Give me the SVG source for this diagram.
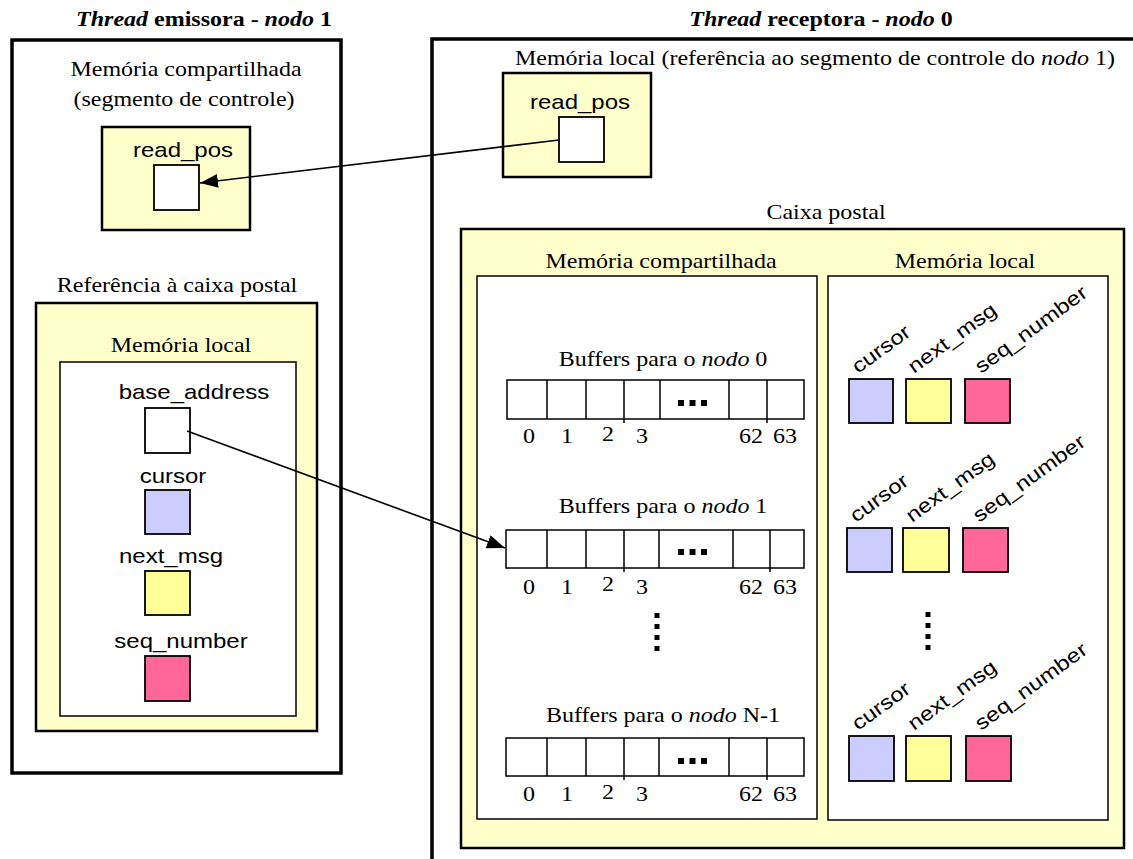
<svg xmlns="http://www.w3.org/2000/svg" width="1133" height="859" viewBox="0 0 1133 859">
  <style>
    .serif { font-family: "Liberation Serif", "Times New Roman", serif; font-size: 20px; fill: #000; }
    .sans { font-family: "Liberation Sans", Arial, sans-serif; font-size: 20px; fill: #000; }
    .title { font-weight: bold; }
    .it { font-style: italic; }
    .outer { fill: #fff; stroke: #000; stroke-width: 3.5; }
    .panel { fill: #ffffcc; stroke: #000; stroke-width: 2.5; }
    .inner { fill: #fff; stroke: #000; stroke-width: 1.5; }
    .cell { fill: #fff; stroke: #000; stroke-width: 1.5; }
    .div { stroke: #000; stroke-width: 1.5; fill: none; }
    .reg { stroke: #000; stroke-width: 1.8; }
    .blank { fill: #fff; }
    .cur { fill: #ccccff; }
    .nxt { fill: #ffff99; }
    .seq { fill: #ff6699; }
    .link { stroke: #000; stroke-width: 1.6; fill: none; marker-end: url(#arrow); }
    .dot { fill: #000; }
  </style>
  <defs>
    <marker id="arrow" markerUnits="userSpaceOnUse" markerWidth="20" markerHeight="16" refX="18" refY="7" orient="auto">
      <path d="M0,0 L18,7 L0,14 z" fill="#000"/>
    </marker>
  </defs>

  <rect width="1133" height="859" fill="#fff"/>

  <!-- Sender thread (node 1) -->
  <g id="sender">
    <text class="serif title" text-anchor="middle" transform="translate(204 26) scale(1.2 1)"><tspan class="it">Thread</tspan> emissora - <tspan class="it">nodo</tspan> 1</text>
    <rect class="outer" x="12" y="40" width="329" height="733"/>
    <text class="serif" text-anchor="middle" transform="translate(186 76) scale(1.2 1)">Memória compartilhada</text>
    <text class="serif" text-anchor="middle" transform="translate(184 106) scale(1.2 1)">(segmento de controle)</text>
  </g>

  <g id="sender-control">
    <rect class="panel" x="102" y="127" width="148" height="103" stroke-width="2"/>
    <text class="sans" text-anchor="middle" transform="translate(183 157) scale(1.2 1)">read_pos</text>
    <rect class="reg blank" x="154" y="165" width="45" height="45"/>
  </g>

  <g id="sender-mailbox-ref">
    <text class="serif" text-anchor="middle" transform="translate(177 292) scale(1.2 1)">Referência à caixa postal</text>
    <rect class="panel" x="36" y="303" width="281" height="428"/>
    <text class="serif" text-anchor="middle" transform="translate(181 352) scale(1.2 1)">Memória local</text>
    <rect class="inner" x="60" y="362" width="236" height="354"/>
    <text class="sans" text-anchor="middle" transform="translate(194 399) scale(1.2 1)">base_address</text>
    <rect class="reg blank" x="145" y="408" width="45" height="45"/>
    <text class="sans" text-anchor="middle" transform="translate(173 483) scale(1.2 1)">cursor</text>
    <rect class="reg cur" x="145" y="490" width="45" height="44"/>
    <text class="sans" text-anchor="middle" transform="translate(171 563) scale(1.2 1)">next_msg</text>
    <rect class="reg nxt" x="145" y="571" width="45" height="44"/>
    <text class="sans" text-anchor="middle" transform="translate(181 648) scale(1.2 1)">seq_number</text>
    <rect class="reg seq" x="145" y="656" width="45" height="45"/>
  </g>

  <!-- Receiver thread (node 0) -->
  <g id="receiver">
    <text class="serif title" text-anchor="middle" transform="translate(821 26) scale(1.2 1)"><tspan class="it">Thread</tspan> receptora - <tspan class="it">nodo</tspan> 0</text>
    <rect class="outer" x="432" y="39" width="760" height="880"/>
    <text class="serif" text-anchor="middle" transform="translate(815 65) scale(1.2 1)">Memória local (referência ao segmento de controle do <tspan class="it">nodo</tspan> 1)</text>
  </g>

  <g id="receiver-control-ref">
    <rect class="panel" x="503" y="73" width="148" height="104" stroke-width="2"/>
    <text class="sans" text-anchor="middle" transform="translate(580 109) scale(1.2 1)">read_pos</text>
    <rect class="reg blank" x="559" y="117" width="45" height="45"/>
  </g>

  <g id="mailbox">
    <text class="serif" text-anchor="middle" transform="translate(826 219) scale(1.2 1)">Caixa postal</text>
    <rect class="panel" x="461" y="229" width="663" height="619"/>
  </g>

  <g id="mailbox-shared">
    <text class="serif" text-anchor="middle" transform="translate(661 268) scale(1.2 1)">Memória compartilhada</text>
    <rect class="inner" x="477" y="276" width="340" height="543"/>

    <!-- buffers for node 0 -->
    <g id="buffers-0">
      <text class="serif" text-anchor="middle" transform="translate(663 366) scale(1.2 1)">Buffers para o <tspan class="it">nodo</tspan> 0</text>
      <rect class="cell" x="507" y="380" width="297" height="39"/>
      <path class="div" d="M547,380V419 M586,380V419 M624,380V423 M660,380V419 M729,380V419 M767,380V423"/>
      <rect class="dot" x="678" y="400" width="6" height="6"/>
      <rect class="dot" x="689.5" y="400" width="6" height="6"/>
      <rect class="dot" x="701" y="400" width="6" height="6"/>
      <g class="serif" text-anchor="middle">
        <text transform="translate(529 443) scale(1.2 1)">0</text>
        <text transform="translate(567 443) scale(1.2 1)">1</text>
        <text transform="translate(608 441) scale(1.2 1)">2</text>
        <text transform="translate(642 443) scale(1.2 1)">3</text>
        <text transform="translate(751 443) scale(1.2 1)">62</text>
        <text transform="translate(785 443) scale(1.2 1)">63</text>
      </g>
    </g>

    <!-- buffers for node 1 -->
    <g id="buffers-1">
      <text class="serif" text-anchor="middle" transform="translate(663 513) scale(1.2 1)">Buffers para o <tspan class="it">nodo</tspan> 1</text>
      <rect class="cell" x="506" y="530" width="298" height="38"/>
      <path class="div" d="M547,530V568 M586,530V568 M624,530V572 M659,530V568 M733,530V568 M770,530V572"/>
      <rect class="dot" x="678" y="549" width="6" height="6"/>
      <rect class="dot" x="689.5" y="549" width="6" height="6"/>
      <rect class="dot" x="701" y="549" width="6" height="6"/>
      <g class="serif" text-anchor="middle">
        <text transform="translate(529 594) scale(1.2 1)">0</text>
        <text transform="translate(567 594) scale(1.2 1)">1</text>
        <text transform="translate(608 591) scale(1.2 1)">2</text>
        <text transform="translate(642 594) scale(1.2 1)">3</text>
        <text transform="translate(751 594) scale(1.2 1)">62</text>
        <text transform="translate(785 594) scale(1.2 1)">63</text>
      </g>
    </g>

    <g id="buffers-ellipsis">
      <rect class="dot" x="654.5" y="613" width="5" height="5"/>
      <rect class="dot" x="654.5" y="624" width="5" height="5"/>
      <rect class="dot" x="654.5" y="635" width="5" height="5"/>
      <rect class="dot" x="654.5" y="646" width="5" height="5"/>
    </g>

    <!-- buffers for node N-1 -->
    <g id="buffers-n1">
      <text class="serif" text-anchor="middle" transform="translate(663 722) scale(1.2 1)">Buffers para o <tspan class="it">nodo</tspan> N-1</text>
      <rect class="cell" x="506" y="738" width="298" height="38"/>
      <path class="div" d="M547,738V776 M586,738V776 M624,738V780 M659,738V776 M729,738V776 M767,738V780"/>
      <rect class="dot" x="678" y="758" width="6" height="6"/>
      <rect class="dot" x="689.5" y="758" width="6" height="6"/>
      <rect class="dot" x="701" y="758" width="6" height="6"/>
      <g class="serif" text-anchor="middle">
        <text transform="translate(529 801) scale(1.2 1)">0</text>
        <text transform="translate(567 801) scale(1.2 1)">1</text>
        <text transform="translate(608 799) scale(1.2 1)">2</text>
        <text transform="translate(642 801) scale(1.2 1)">3</text>
        <text transform="translate(751 801) scale(1.2 1)">62</text>
        <text transform="translate(785 801) scale(1.2 1)">63</text>
      </g>
    </g>
  </g>

  <g id="mailbox-local">
    <text class="serif" text-anchor="middle" transform="translate(965 268) scale(1.2 1)">Memória local</text>
    <rect class="inner" x="828" y="276" width="280" height="544"/>

    <g id="state-0">
      <text class="sans" transform="translate(858 374) rotate(-36) scale(1.2 1)">cursor</text>
      <text class="sans" transform="translate(914 374) rotate(-36) scale(1.2 1)">next_msg</text>
      <text class="sans" transform="translate(981 374) rotate(-36) scale(1.2 1)">seq_number</text>
      <rect class="reg cur" x="849" y="379" width="44" height="44"/>
      <rect class="reg nxt" x="906" y="379" width="45" height="44"/>
      <rect class="reg seq" x="965" y="379" width="45" height="44"/>
    </g>

    <g id="state-1">
      <text class="sans" transform="translate(856 523) rotate(-36) scale(1.2 1)">cursor</text>
      <text class="sans" transform="translate(912 523) rotate(-36) scale(1.2 1)">next_msg</text>
      <text class="sans" transform="translate(979 523) rotate(-36) scale(1.2 1)">seq_number</text>
      <rect class="reg cur" x="847" y="528" width="45" height="44"/>
      <rect class="reg nxt" x="903" y="528" width="46" height="44"/>
      <rect class="reg seq" x="963" y="528" width="45" height="44"/>
    </g>

    <g id="state-ellipsis">
      <rect class="dot" x="925.5" y="612" width="5" height="5"/>
      <rect class="dot" x="925.5" y="623" width="5" height="5"/>
      <rect class="dot" x="925.5" y="634" width="5" height="5"/>
      <rect class="dot" x="925.5" y="645" width="5" height="5"/>
    </g>

    <g id="state-n1">
      <text class="sans" transform="translate(858 731) rotate(-36) scale(1.2 1)">cursor</text>
      <text class="sans" transform="translate(914 731) rotate(-36) scale(1.2 1)">next_msg</text>
      <text class="sans" transform="translate(981 731) rotate(-36) scale(1.2 1)">seq_number</text>
      <rect class="reg cur" x="849" y="736" width="45" height="45"/>
      <rect class="reg nxt" x="906" y="736" width="45" height="45"/>
      <rect class="reg seq" x="966" y="736" width="45" height="45"/>
    </g>
  </g>

  <!-- References between the two threads -->
  <g id="connectors">
    <line class="link" x1="559" y1="140" x2="200" y2="183"/>
    <line class="link" x1="187" y1="431" x2="505" y2="548"/>
  </g>
</svg>
